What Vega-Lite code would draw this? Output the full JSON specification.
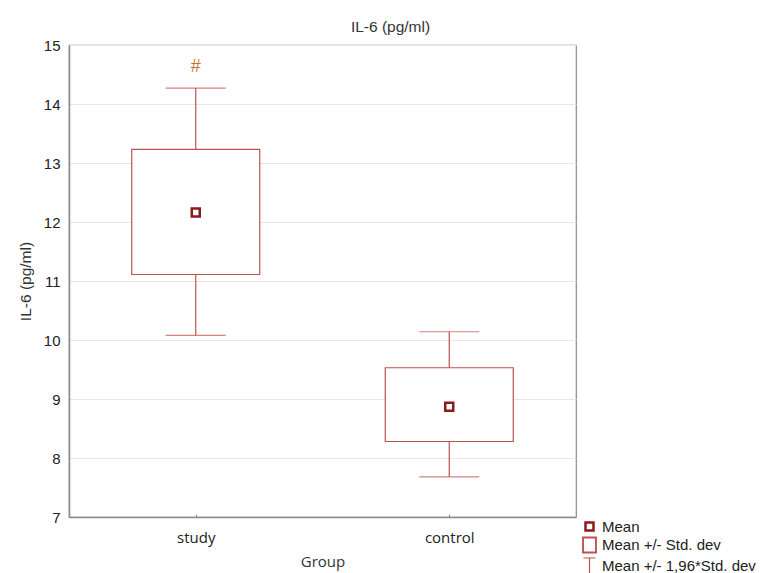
{
  "$schema": "https://vega.github.io/schema/vega-lite/v6.json",
  "autosize": "none",
  "width": 507,
  "height": 472,
  "padding": {"left": 69, "top": 45, "right": 192, "bottom": 56},
  "background": "white",
  "title": {"text": "IL-6 (pg/ml)", "font": "Liberation Sans", "fontSize": 15.5, "fontWeight": "normal", "color": "#333333", "dx": 68, "offset": 3},
  "data": {
    "values": [
      {"group": "study", "mean": 12.16, "sd_low": 11.11, "sd_high": 13.23, "ci_low": 10.08, "ci_high": 14.27, "note": "#", "note_y": 14.62},
      {"group": "control", "mean": 8.87, "sd_low": 8.28, "sd_high": 9.53, "ci_low": 7.68, "ci_high": 10.14, "note": "", "note_y": 10.5}
    ]
  },
  "config": {
    "view": {"stroke": "#8a8a8a", "strokeWidth": 1.2},
    "axis": {"domainColor": "#8a8a8a", "tickColor": "#8a8a8a"}
  },
  "encoding": {
    "x": {
      "field": "group", "type": "nominal", "sort": ["study", "control"],
      "scale": {"type": "point", "padding": 0.5},
      "axis": {"title": "Group", "titleFont": "Open Sans", "titleFontSize": 15, "titleFontWeight": "normal", "titleColor": "#333333", "titlePadding": 9,
               "labelFont": "Open Sans", "labelFontSize": 15, "labelColor": "#222222", "labelPadding": 16, "labelAngle": 0,
               "ticks": true, "tickSize": -3, "grid": false, "domainWidth": 1.5}
    }
  },
  "layer": [
    {
      "mark": {"type": "rule", "color": "#c0504d", "strokeWidth": 1.2},
      "encoding": {
        "y": {"field": "ci_low", "type": "quantitative", "scale": {"domain": [7, 15], "nice": false, "zero": false},
              "axis": {"title": "IL-6 (pg/ml)", "titleFont": "Liberation Sans", "titleFontSize": 15.5, "titleFontWeight": "normal", "titleColor": "#333333", "titlePadding": 10,
                       "labelFont": "Liberation Sans", "labelFontSize": 15, "labelColor": "#222222", "labelPadding": 9, "format": "d",
                       "ticks": false, "values": [7, 8, 9, 10, 11, 12, 13, 14, 15], "grid": true, "gridColor": "#e6e6e6", "domainWidth": 1.5}},
        "y2": {"field": "ci_high"}
      }
    },
    {
      "mark": {"type": "tick", "color": "#c0504d", "size": 60, "thickness": 1.2},
      "encoding": {"y": {"field": "ci_low", "type": "quantitative"}}
    },
    {
      "mark": {"type": "tick", "color": "#c0504d", "size": 60, "thickness": 1.2},
      "encoding": {"y": {"field": "ci_high", "type": "quantitative"}}
    },
    {
      "mark": {"type": "bar", "fill": "white", "stroke": "#c0504d", "strokeWidth": 1.2, "width": 128},
      "encoding": {"y": {"field": "sd_low", "type": "quantitative"}, "y2": {"field": "sd_high"}}
    },
    {
      "mark": {"type": "point", "fill": "white", "filled": false, "size": 256, "opacity": 1},
      "encoding": {
        "y": {"field": "mean", "type": "quantitative"},
        "stroke": {"datum": "Mean", "type": "nominal",
                   "scale": {"domain": ["Mean", "Mean +/- Std. dev", "Mean +/- 1,96*Std. dev"], "range": ["#8b1a1a", "#c0504d", "#c0504d"]},
                   "legend": {"title": null, "orient": "none", "legendX": 511, "legendY": 472, "padding": 0,
                              "labelFont": "Liberation Sans", "labelFontSize": 15, "labelColor": "#222222", "labelOffset": 3, "labelLimit": 0,
                              "symbolSize": 256, "symbolFillColor": "white", "rowPadding": -3}},
        "shape": {"datum": "Mean", "type": "nominal",
                  "scale": {"domain": ["Mean", "Mean +/- Std. dev", "Mean +/- 1,96*Std. dev"],
                            "range": ["M-0.5,-0.5H0.5V0.5H-0.5Z", "M-0.81,-0.94H0.81V0.94H-0.81Z", "M-0.75,-1H0.75M0,-1V1M-0.75,1H0.75"]},
                  "legend": {"title": null, "orient": "none", "legendX": 511, "legendY": 472, "padding": 0,
                             "labelFont": "Liberation Sans", "labelFontSize": 15, "labelColor": "#222222", "labelOffset": 3, "labelLimit": 0,
                             "symbolSize": 256, "symbolFillColor": "white", "rowPadding": -3}},
        "strokeWidth": {"datum": "Mean", "type": "nominal",
                        "scale": {"domain": ["Mean", "Mean +/- Std. dev", "Mean +/- 1,96*Std. dev"], "range": [2.5, 1.2, 1.2]},
                        "legend": {"title": null, "orient": "none", "legendX": 511, "legendY": 472, "padding": 0,
                                   "labelFont": "Liberation Sans", "labelFontSize": 15, "labelColor": "#222222", "labelOffset": 3, "labelLimit": 0,
                                   "symbolSize": 256, "symbolFillColor": "white", "rowPadding": -3}}
      }
    },
    {
      "mark": {"type": "text", "color": "#c8742a", "font": "Liberation Sans", "fontSize": 18, "baseline": "middle"},
      "encoding": {"y": {"field": "note_y", "type": "quantitative"}, "text": {"field": "note"}}
    }
  ]
}
